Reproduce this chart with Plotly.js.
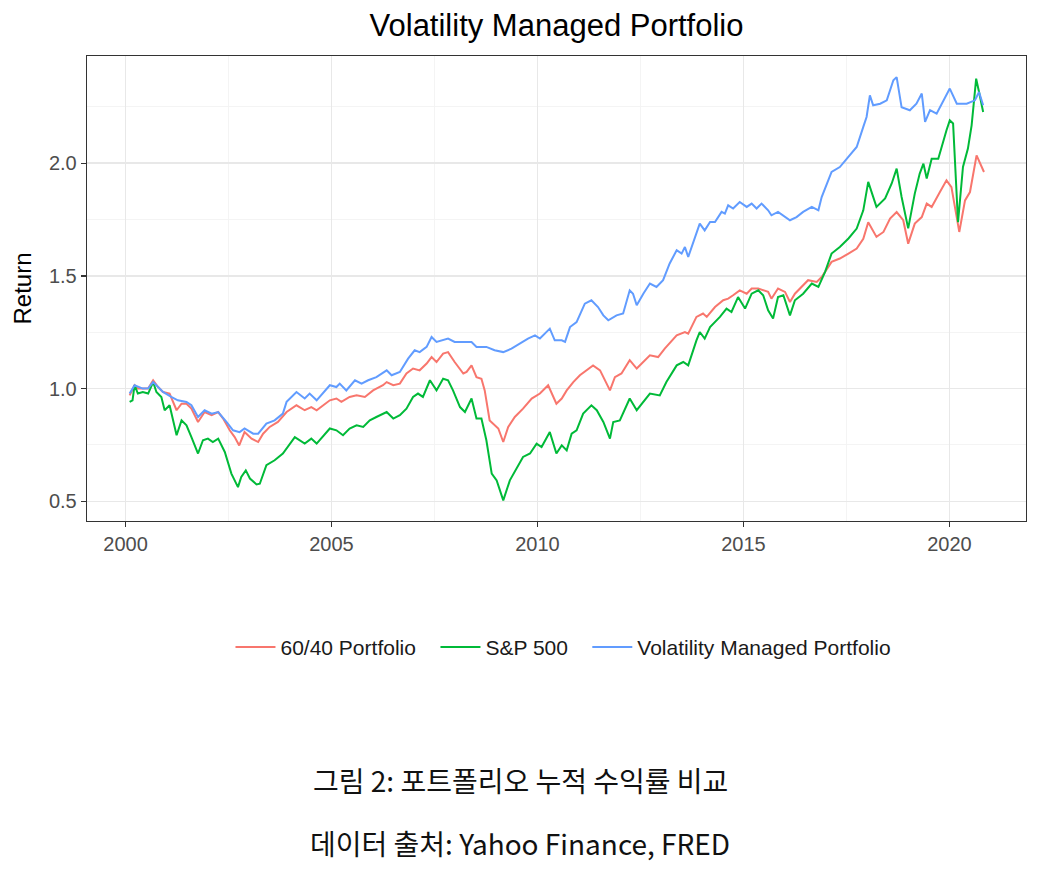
<!DOCTYPE html>
<html>
<head>
<meta charset="utf-8">
<script src="https://cdn.plot.ly/plotly-3.0.1.min.js"></script>
<style>
  html, body { margin: 0; padding: 0; background: #ffffff; }
  #chart { width: 1040px; height: 873px; }
</style>
</head>
<body>
<div id="chart"></div>
<script>
// Cumulative growth of 1 invested, by decimal year.
const seriesNames = ["60/40 Portfolio", "S&P 500", "Volatility Managed Portfolio"];
const seriesColors = ["#F8766D", "#00BA38", "#619CFF"];

const mixYears = [2000.10,2000.22,2000.30,2000.42,2000.55,2000.67,2000.79,2000.91,2001.07,2001.24,2001.36,2001.48,2001.60,2001.76,2001.92,2002.09,2002.25,2002.37,2002.53,2002.65,2002.76,2002.89,2003.06,2003.22,2003.34,2003.50,2003.70,2003.91,2004.15,2004.35,2004.51,2004.64,2004.96,2005.12,2005.24,2005.44,2005.61,2005.81,2006.01,2006.25,2006.34,2006.50,2006.66,2006.82,2006.98,2007.14,2007.31,2007.43,2007.55,2007.71,2007.83,2007.99,2008.20,2008.28,2008.40,2008.52,2008.64,2008.72,2008.84,2009.05,2009.17,2009.29,2009.45,2009.65,2009.86,2010.06,2010.26,2010.46,2010.59,2010.71,2010.87,2011.03,2011.23,2011.35,2011.52,2011.68,2011.76,2011.88,2012.04,2012.24,2012.41,2012.73,2012.93,2013.09,2013.38,2013.58,2013.66,2013.86,2014.02,2014.11,2014.31,2014.51,2014.63,2014.75,2014.91,2015.08,2015.20,2015.36,2015.48,2015.60,2015.68,2015.84,2016.01,2016.13,2016.25,2016.41,2016.57,2016.78,2016.90,2017.14,2017.34,2017.55,2017.75,2017.91,2018.03,2018.23,2018.40,2018.56,2018.72,2018.88,2019.00,2019.16,2019.33,2019.45,2019.57,2019.77,2019.93,2020.05,2020.24,2020.38,2020.50,2020.66,2020.76,2020.84];
const mixValues = [0.970,1.015,1.000,1.000,1.000,1.037,1.007,0.985,0.978,0.904,0.933,0.933,0.911,0.852,0.896,0.882,0.896,0.867,0.815,0.785,0.748,0.807,0.778,0.763,0.800,0.830,0.852,0.896,0.926,0.904,0.918,0.904,0.948,0.956,0.941,0.963,0.970,0.963,0.992,1.015,1.029,1.015,1.022,1.067,1.089,1.081,1.111,1.140,1.118,1.155,1.162,1.118,1.067,1.074,1.103,1.051,1.044,0.992,0.859,0.823,0.763,0.830,0.874,0.911,0.956,0.978,1.015,0.933,0.956,0.992,1.029,1.059,1.089,1.103,1.081,1.022,0.992,1.051,1.067,1.126,1.089,1.148,1.140,1.177,1.236,1.251,1.244,1.318,1.333,1.318,1.362,1.392,1.399,1.414,1.436,1.421,1.444,1.444,1.436,1.429,1.399,1.444,1.429,1.384,1.421,1.451,1.481,1.473,1.495,1.562,1.577,1.599,1.621,1.665,1.738,1.673,1.695,1.754,1.783,1.747,1.643,1.732,1.761,1.821,1.806,1.872,1.924,1.894,1.695,1.835,1.872,2.035,1.991,1.961];

const spxYears = [2000.10,2000.17,2000.22,2000.30,2000.42,2000.55,2000.67,2000.75,2000.87,2000.95,2001.07,2001.24,2001.36,2001.48,2001.60,2001.76,2001.88,2002.00,2002.12,2002.25,2002.41,2002.57,2002.73,2002.81,2002.92,2003.02,2003.18,2003.26,2003.42,2003.62,2003.82,2003.99,2004.11,2004.35,2004.51,2004.64,2004.96,2005.12,2005.28,2005.44,2005.61,2005.77,2005.93,2006.09,2006.34,2006.50,2006.66,2006.82,2006.98,2007.10,2007.22,2007.39,2007.55,2007.71,2007.83,2007.95,2008.12,2008.24,2008.40,2008.52,2008.64,2008.76,2008.89,2009.01,2009.17,2009.33,2009.45,2009.65,2009.82,2009.98,2010.10,2010.30,2010.46,2010.59,2010.71,2010.83,2010.95,2011.11,2011.31,2011.44,2011.60,2011.76,2011.84,2012.00,2012.24,2012.41,2012.73,2012.97,2013.13,2013.38,2013.54,2013.66,2013.86,2013.94,2014.06,2014.19,2014.43,2014.59,2014.71,2014.87,2015.04,2015.20,2015.36,2015.48,2015.60,2015.72,2015.84,2015.97,2016.13,2016.25,2016.45,2016.66,2016.82,2016.98,2017.14,2017.34,2017.55,2017.75,2017.91,2018.03,2018.23,2018.44,2018.60,2018.72,2018.84,2019.00,2019.16,2019.28,2019.37,2019.45,2019.57,2019.73,2019.93,2020.01,2020.09,2020.21,2020.33,2020.45,2020.54,2020.65,2020.72,2020.82];
const spxValues = [0.941,0.948,1.015,0.978,0.985,0.978,1.029,0.985,0.963,0.904,0.926,0.793,0.859,0.837,0.785,0.712,0.771,0.778,0.763,0.778,0.719,0.623,0.563,0.608,0.637,0.601,0.575,0.578,0.660,0.682,0.712,0.756,0.785,0.756,0.778,0.756,0.823,0.815,0.793,0.823,0.837,0.830,0.859,0.874,0.896,0.867,0.882,0.911,0.963,0.978,0.963,1.037,0.992,1.044,1.037,0.992,0.918,0.896,0.956,0.867,0.867,0.771,0.623,0.593,0.504,0.593,0.630,0.697,0.712,0.756,0.741,0.807,0.712,0.748,0.726,0.800,0.815,0.889,0.926,0.904,0.852,0.778,0.852,0.859,0.956,0.904,0.978,0.970,1.029,1.103,1.118,1.103,1.214,1.251,1.222,1.273,1.318,1.355,1.340,1.406,1.355,1.421,1.436,1.414,1.347,1.311,1.406,1.414,1.325,1.392,1.421,1.466,1.451,1.517,1.599,1.628,1.666,1.710,1.791,1.917,1.806,1.844,1.910,1.976,1.850,1.711,1.865,1.954,1.998,1.932,2.020,2.020,2.146,2.190,2.176,1.738,1.983,2.065,2.168,2.375,2.316,2.227];

const volYears = [2000.10,2000.22,2000.42,2000.55,2000.67,2000.91,2001.11,2001.27,2001.48,2001.60,2001.76,2001.92,2002.09,2002.25,2002.45,2002.61,2002.77,2002.89,2003.10,2003.22,2003.42,2003.62,2003.82,2003.91,2004.15,2004.35,2004.47,2004.64,2004.96,2005.12,2005.20,2005.36,2005.57,2005.73,2005.89,2006.09,2006.34,2006.46,2006.66,2006.86,2007.02,2007.14,2007.31,2007.43,2007.55,2007.71,2007.83,2007.99,2008.24,2008.40,2008.52,2008.76,2008.96,2009.17,2009.37,2009.57,2009.77,2009.94,2010.06,2010.30,2010.42,2010.59,2010.67,2010.79,2010.95,2011.15,2011.31,2011.47,2011.60,2011.72,2011.92,2012.08,2012.24,2012.32,2012.41,2012.57,2012.73,2012.89,2013.05,2013.21,2013.38,2013.50,2013.58,2013.66,2013.82,2013.94,2014.06,2014.19,2014.31,2014.47,2014.55,2014.63,2014.75,2014.91,2015.08,2015.20,2015.32,2015.44,2015.60,2015.68,2015.84,2015.97,2016.13,2016.29,2016.45,2016.66,2016.82,2016.90,2017.14,2017.34,2017.55,2017.75,2017.91,2017.99,2018.07,2018.15,2018.32,2018.48,2018.64,2018.72,2018.84,2019.04,2019.20,2019.33,2019.41,2019.53,2019.69,2019.85,2020.01,2020.18,2020.42,2020.62,2020.72,2020.82];
const volValues = [0.978,1.015,1.000,1.001,1.029,0.985,0.963,0.948,0.941,0.926,0.874,0.904,0.889,0.896,0.852,0.815,0.807,0.823,0.800,0.800,0.845,0.859,0.889,0.941,0.985,0.956,0.978,0.948,1.015,1.007,1.022,0.992,1.037,1.022,1.037,1.051,1.081,1.059,1.074,1.133,1.170,1.162,1.185,1.229,1.207,1.214,1.222,1.207,1.207,1.207,1.185,1.185,1.170,1.162,1.177,1.200,1.222,1.236,1.222,1.266,1.214,1.214,1.207,1.273,1.295,1.377,1.392,1.362,1.325,1.303,1.325,1.333,1.436,1.421,1.370,1.421,1.466,1.451,1.481,1.555,1.614,1.599,1.628,1.584,1.665,1.732,1.702,1.739,1.739,1.784,1.776,1.813,1.799,1.828,1.806,1.821,1.799,1.821,1.791,1.769,1.784,1.769,1.747,1.761,1.784,1.806,1.791,1.850,1.961,1.983,2.028,2.072,2.161,2.205,2.301,2.257,2.264,2.279,2.368,2.382,2.248,2.235,2.264,2.309,2.183,2.235,2.220,2.279,2.331,2.264,2.264,2.279,2.316,2.257];

const xTickValues = [2000, 2005, 2010, 2015, 2020];
const yTickValues = [0.5, 1.0, 1.5, 2.0];
const yTickLabels = ["0.5", "1.0", "1.5", "2.0"];

const chartTitle = "Volatility Managed Portfolio";
const yTitle = "Return";
const captionLines = ["그림 2: 포트폴리오 누적 수익률 비교", "데이터 출처: Yahoo Finance, FRED"];

const xs = [mixYears, spxYears, volYears];
const ys = [mixValues, spxValues, volValues];

// each series gets its own legend box so the three keys can be spaced freely
const legendIds = ["legend", "legend2", "legend3"];
const legendLeft = [0.1528, 0.3711, 0.5328];

const traces = seriesNames.map((name, i) => ({
  type: "scatter",
  mode: "lines",
  name: name,
  legend: legendIds[i],
  x: xs[i],
  y: ys[i],
  line: { color: seriesColors[i], width: 2, shape: "linear" },
  hoverinfo: "x+y+name"
}));

const baseFont = "Liberation Sans, Arial, Helvetica, sans-serif";
const gridMajor = "#e8e8e8";
const gridMinor = "#f3f3f3";

const plotTop = 55.7, plotBottom = 520.7;
const plotH = plotBottom - plotTop;
const yPaper = (px) => (plotBottom - px) / plotH;

const layout = {
  width: 1040,
  height: 873,
  paper_bgcolor: "#ffffff",
  plot_bgcolor: "#ffffff",
  margin: { l: 87, r: 14, t: 56, b: 352, pad: 0 },
  font: { family: baseFont, color: "#000000" },
  title: {
    text: chartTitle,
    x: 0.5, xref: "paper", xanchor: "center",
    y: 1 - 25 / 873, yref: "container", yanchor: "middle",
    font: { family: baseFont, size: 31, color: "#000000" }
  },
  xaxis: {
    range: [1999.065, 2021.86],
    tickmode: "array",
    tickvals: xTickValues,
    ticktext: xTickValues.map(String),
    ticks: "outside", ticklen: 5, tickwidth: 1.3, tickcolor: "#333333",
    tickfont: { family: baseFont, size: 20, color: "#4d4d4d" },
    showgrid: true, gridcolor: gridMajor, gridwidth: 1.5,
    minor: { tickmode: "array", tickvals: [2002.5, 2007.5, 2012.5, 2017.5], showgrid: true, gridcolor: gridMinor, gridwidth: 0.9, ticks: "" },
    zeroline: false,
    showline: true, mirror: true, linecolor: "#333333", linewidth: 1.3
  },
  yaxis: {
    range: [0.4126, 2.4756],
    tickmode: "array",
    tickvals: yTickValues,
    ticktext: yTickLabels,
    ticks: "outside", ticklen: 5, tickwidth: 1.3, tickcolor: "#333333",
    tickfont: { family: baseFont, size: 20, color: "#4d4d4d" },
    showgrid: true, gridcolor: gridMajor, gridwidth: 1.5,
    minor: { tickmode: "array", tickvals: [0.75, 1.25, 1.75, 2.25], showgrid: true, gridcolor: gridMinor, gridwidth: 0.9, ticks: "" },
    zeroline: false,
    showline: true, mirror: true, linecolor: "#333333", linewidth: 1.3,
    title: { text: yTitle, font: { family: baseFont, size: 24, color: "#000000" }, standoff: 10 }
  },
  showlegend: true,
  annotations: captionLines.map((t, i) => ({
    text: t,
    xref: "paper", yref: "paper",
    x: (520 - 87) / 939, xanchor: "center",
    y: yPaper(i === 0 ? 780 : 843), yanchor: "middle",
    showarrow: false,
    font: { family: "Noto Sans CJK KR, Noto Sans, sans-serif", size: 28, color: "#111111" }
  }))
};

legendIds.forEach((id, i) => {
  layout[id] = {
    orientation: "h",
    x: legendLeft[i], xanchor: "left",
    y: yPaper(647), yanchor: "middle",
    font: { family: baseFont, size: 21, color: "#1a1a1a" },
    bgcolor: "rgba(0,0,0,0)",
    itemwidth: 40
  };
});

Plotly.newPlot("chart", traces, layout, { displayModeBar: false, staticPlot: true });
</script>
</body>
</html>
